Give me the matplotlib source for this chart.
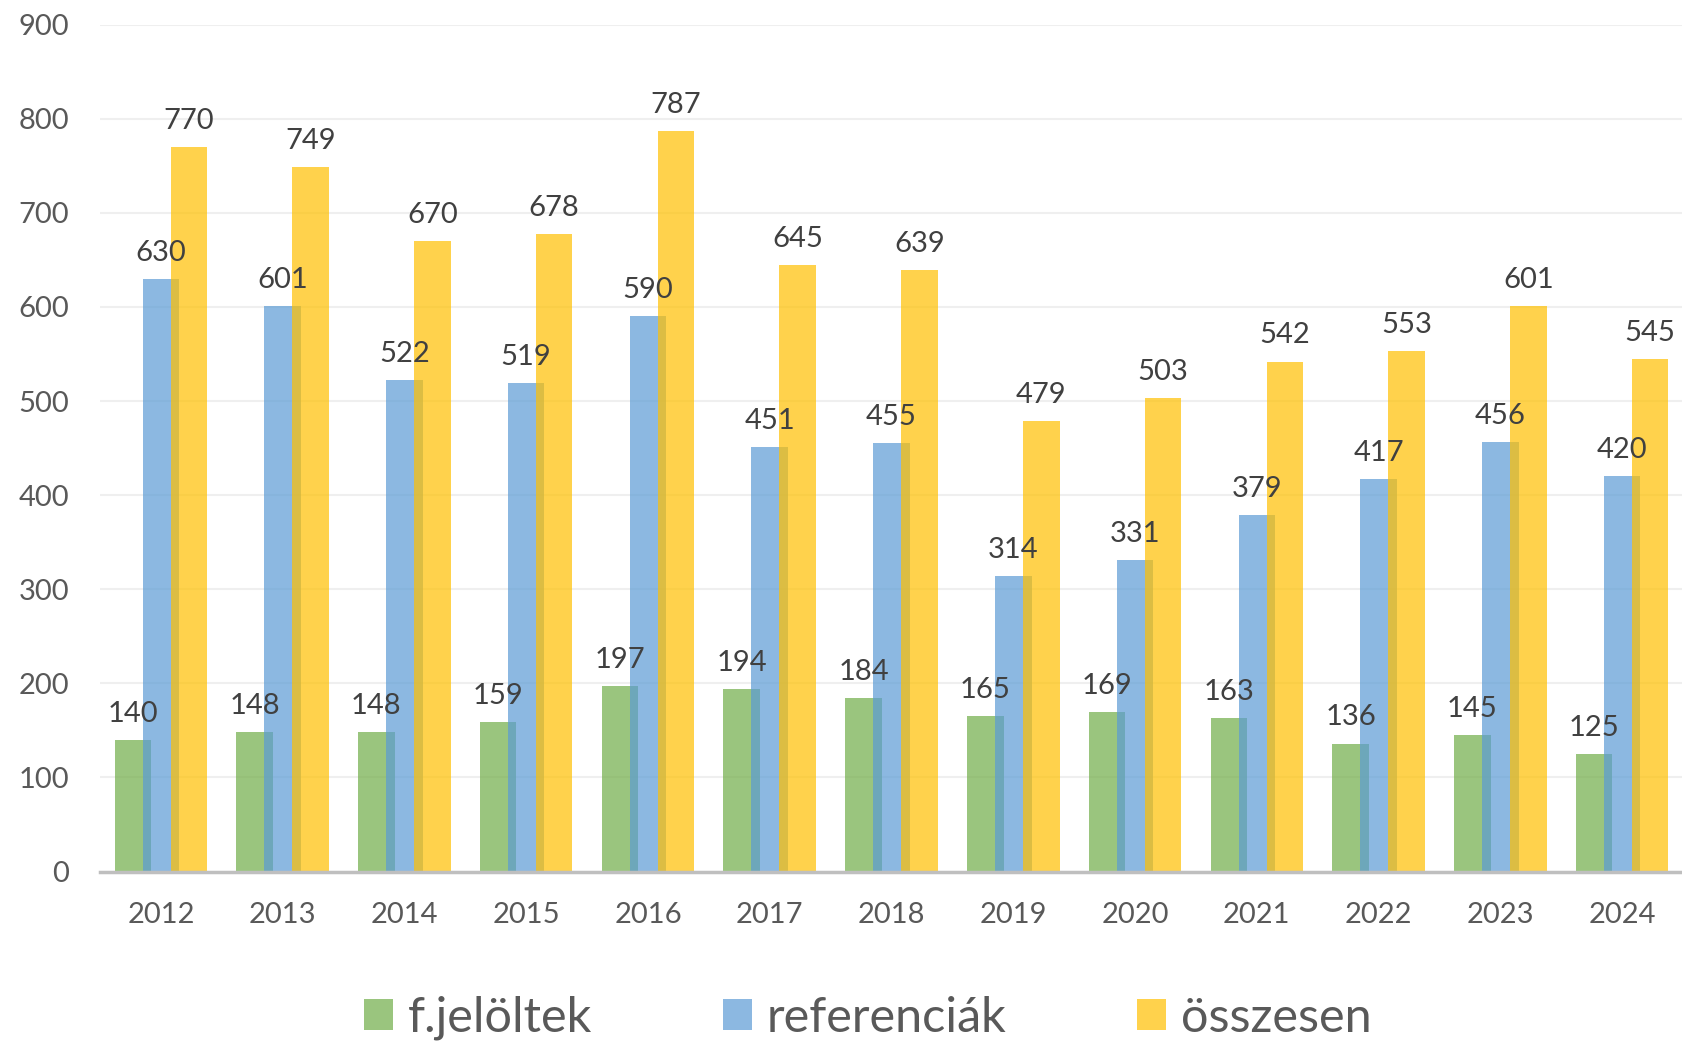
import matplotlib
matplotlib.use("Agg")
import matplotlib.pyplot as plt
import numpy as np

years = ["2012", "2013", "2014", "2015", "2016", "2017", "2018",
         "2019", "2020", "2021", "2022", "2023", "2024"]
jeloltek = [140, 148, 148, 159, 197, 194, 184, 165, 169, 163, 136, 145, 125]
referenciak = [630, 601, 522, 519, 590, 451, 455, 314, 331, 379, 417, 456, 420]
osszesen = [770, 749, 670, 678, 787, 645, 639, 479, 503, 542, 553, 601, 545]
series_names = ["f.jelöltek", "referenciák", "összesen"]
yticks = [0, 100, 200, 300, 400, 500, 600, 700, 800, 900]

plt.rcParams['font.family'] = ['Lato', 'DejaVu Sans']

fig = plt.figure(figsize=(16.83, 10.41), dpi=100)
ax = fig.add_axes([100 / 1683, 1 - 871.5 / 1041, 1 - 100 / 1683, (871.5 - 24.7) / 1041])

x = np.arange(len(years))
width = 0.30
offsets = [-0.23, 0.0, 0.23]
colors = ["#70AD47", "#5B9BD5", "#FFC000"]

for i, (vals, name) in enumerate(zip([jeloltek, referenciak, osszesen], series_names)):
    ax.bar(x + offsets[i], vals, width, color=colors[i], alpha=0.7,
           label=name, zorder=2 + i, linewidth=0)
    for xi, v in zip(x + offsets[i], vals):
        ax.annotate(str(v), (xi, v), xytext=(0, 13), textcoords="offset points",
                    ha="center", va="baseline", fontsize=21, color="#404040",
                    zorder=10)

ax.set_xlim(-0.5, 12.5)
ax.set_ylim(0, 900)
ax.set_yticks(yticks)
ax.set_xticks(x)
ax.set_xticklabels(years)
ax.yaxis.grid(True, color="#EFEFEF", linewidth=1.5, zorder=0)
ax.set_axisbelow(True)
for s in ["top", "right", "left"]:
    ax.spines[s].set_visible(False)
ax.spines["bottom"].set_color("#BFBFBF")
ax.spines["bottom"].set_linewidth(2.5)
ax.spines["bottom"].set_zorder(20)
ax.tick_params(axis="both", length=0, labelsize=21, colors="#595959")
ax.tick_params(axis="y", pad=22)
ax.tick_params(axis="x", pad=22)

fs = 35
leg = fig.legend(loc="center", bbox_to_anchor=(0.5156, 0.022), ncol=3, frameon=False,
                 fontsize=fs, handlelength=29 / (fs * 100 / 72), handleheight=29 / (fs * 100 / 72),
                 handletextpad=0.3, columnspacing=2.7)
for t in leg.get_texts():
    t.set_color("#595959")

fig.savefig("out.png", dpi=100)
